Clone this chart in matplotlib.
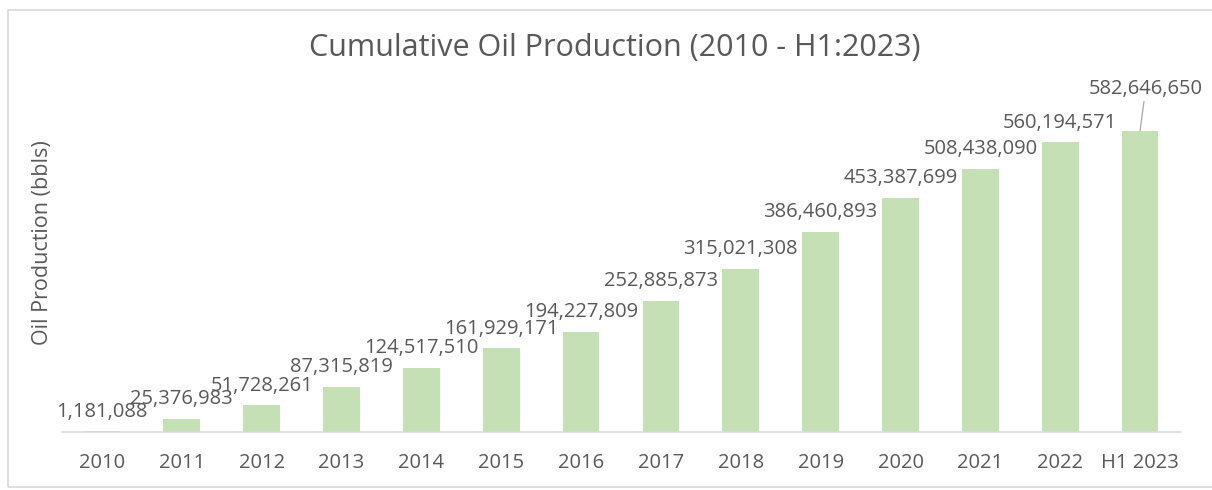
import matplotlib.pyplot as plt
from matplotlib.patches import Rectangle

plt.rcParams['font.family'] = ['Open Sans', 'DejaVu Sans']

# cumulative production, barrels
periods = ['2010', '2011', '2012', '2013', '2014', '2015', '2016',
           '2017', '2018', '2019', '2020', '2021', '2022', 'H1 2023']
cum_bbls = [1181088, 25376983, 51728261, 87315819, 124517510, 161929171,
            194227809, 252885873, 315021308, 386460893, 453387699,
            508438090, 560194571, 582646650]

bar_color = '#C5E0B4'
text_color = '#595959'

fig = plt.figure(figsize=(12.12, 4.9), dpi=100)
ax = fig.add_axes([0.0512, 0.1184, 0.9224, 0.7388])

x = range(len(periods))
ax.bar(x, cum_bbls, width=0.46, color=bar_color, zorder=2)

ax.set_xlim(-0.5, len(periods) - 0.5)
ax.set_ylim(0, 700e6)
ax.set_xticks(list(x))
ax.set_xticklabels(periods, fontsize=14.5, color=text_color)
ax.tick_params(axis='x', length=0, pad=15)
ax.set_yticks([])
for side in ['top', 'right', 'left']:
    ax.spines[side].set_visible(False)
ax.spines['bottom'].set_color('#D9D9D9')
ax.spines['bottom'].set_linewidth(1.2)

# value labels above each bar; the last one sits higher with a leader line
for i, v in enumerate(cum_bbls):
    if i == len(cum_bbls) - 1:
        ax.annotate(f'{v:,}', xy=(i, v), xytext=(4, 23), textcoords='offset points',
                    ha='center', va='bottom', fontsize=14.5, color=text_color,
                    arrowprops=dict(arrowstyle='-', color='#A6A6A6', lw=0.9,
                                    shrinkA=0, shrinkB=0))
    else:
        ax.annotate(f'{v:,}', xy=(i, v), xytext=(0, 7), textcoords='offset points',
                    ha='center', va='bottom', fontsize=14.5, color=text_color)

fig.text(0.507, 0.903, 'Cumulative Oil Production (2010 - H1:2023)',
         ha='center', va='center', fontsize=22, color=text_color)
fig.text(0.035, 0.504, 'Oil Production (bbls)', rotation=90,
         ha='center', va='center', fontsize=15.5, color=text_color)

# chart frame
fig.patches.append(Rectangle((8 / 1212, 3 / 490), 1.0, 477 / 490,
                             transform=fig.transFigure, fill=False,
                             edgecolor='#D9D9D9', linewidth=1.2))

fig.savefig('out.png', dpi=100, facecolor='white')
